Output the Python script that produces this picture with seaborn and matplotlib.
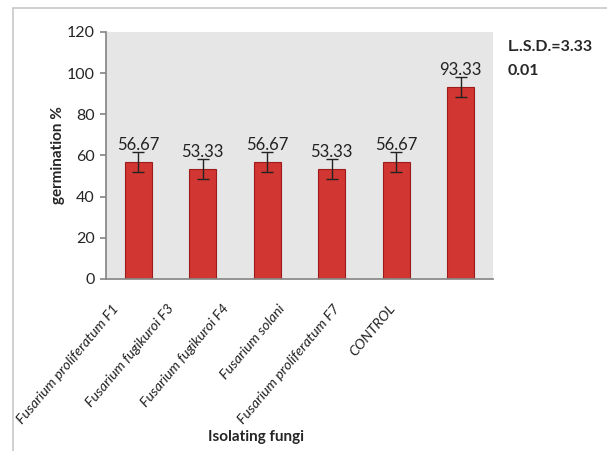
import matplotlib
matplotlib.use("Agg")
import matplotlib.pyplot as plt
import seaborn as sns
import pandas as pd
from matplotlib.lines import Line2D

# данные с графика
fungi = ["Fusarium proliferatum F1", "Fusarium fugikuroi F3", "Fusarium fugikuroi F4",
         "Fusarium solani", "Fusarium proliferatum F7", "CONTROL"]
germination = [56.67, 53.33, 56.67, 53.33, 56.67, 93.33]
errors = [4.8, 4.8, 4.8, 4.8, 4.8, 4.8]
value_labels = ["56.67", "53.33", "56.67", "53.33", "56.67", "93.33"]

df = pd.DataFrame({"fungi": fungi, "germination": germination})

sns.set_theme(style="white")
plt.rcParams["font.family"] = ["Lato", "DejaVu Sans"]

fig = plt.figure(figsize=(6.07, 4.51), dpi=100)
ax = fig.add_axes([0.1746, 0.3814, 0.6375, 0.5477])

# светло-серый фон области построения
ax.set_facecolor("#e6e6e6")

sns.barplot(data=df, x="fungi", y="germination", color="#d23632",
            edgecolor="#9c1c1c", linewidth=0.8, width=0.42, ax=ax, saturation=1)
ax.errorbar(range(len(fungi)), germination, yerr=errors, fmt="none",
            ecolor="#222222", elinewidth=1, capsize=4, capthick=1)

for i, (v, lab) in enumerate(zip(germination, value_labels)):
    ax.annotate(lab, (i, v), xytext=(0, 12.5), textcoords="offset points",
                ha="center", va="center", fontsize=12, color="#222222")

ax.set_ylim(0, 120)
ax.set_xlim(-0.5, 5.5)
ax.set_yticks(range(0, 121, 20))
ax.tick_params(axis="y", labelsize=11.5, length=4, color="#888888", left=True, pad=4)
ax.tick_params(axis="x", length=0)
ax.set_xticks(range(len(fungi)))
ax.set_xticklabels([])

# подписи категорий, как в оригинале, идут чуть плотнее, чем столбцы
label_step = 0.856
for i, name in enumerate(fungi):
    ax.text(-0.407 + label_step * i, -0.095, name, transform=ax.get_xaxis_transform(),
            rotation=50, ha="right", va="top", rotation_mode="anchor",
            fontsize=10.3, style="italic", color="#222222")

for s in ["top", "right"]:
    ax.spines[s].set_visible(False)
ax.spines["left"].set_color("#888888")
ax.spines["bottom"].set_color("#888888")

ax.set_xlabel("")
ax.set_ylabel("germination %", fontsize=11, fontweight="bold", labelpad=1)
fig.text(0.422, 0.031, "Isolating fungi", ha="center", va="center",
         fontsize=11, fontweight="bold")

fig.text(0.837, 0.895, "L..S.D.=3.33", fontsize=11.5, fontweight="bold", va="center")
fig.text(0.837, 0.842, "0.01", fontsize=11.5, fontweight="bold", va="center")

# рамка диаграммы
fig.add_artist(Line2D([0.021, 1.0], [0.983, 0.983], transform=fig.transFigure,
                      color="#c8c8c8", linewidth=1.2))
fig.add_artist(Line2D([0.021, 0.021], [0.0, 0.983], transform=fig.transFigure,
                      color="#c8c8c8", linewidth=1.2))

fig.savefig("out.png", dpi=100)
